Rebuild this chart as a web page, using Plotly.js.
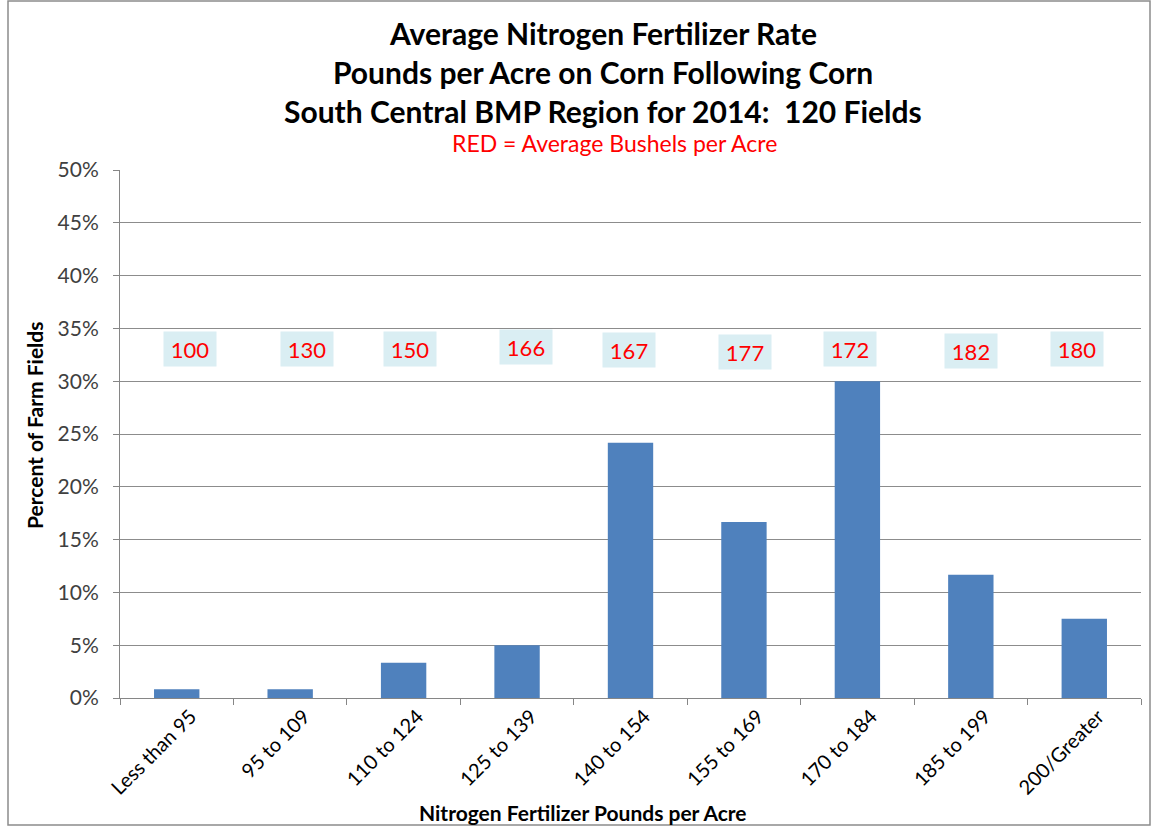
<!DOCTYPE html>
<html>
<head>
<meta charset="utf-8">
<script src="https://cdn.plot.ly/plotly-3.0.1.min.js"></script>
<style>
html,body{margin:0;padding:0;background:#fff;}
#chart{width:1158px;height:827px;}
</style>
</head>
<body>
<div id="chart"></div>
<script>
var categories = ["Less than 95","95 to 109","110 to 124","125 to 139","140 to 154","155 to 169","170 to 184","185 to 199","200/Greater"];
var percentFields = [0.83, 0.83, 3.33, 5.0, 24.17, 16.67, 30.0, 11.67, 7.5];
var bushelsPerAcre = [100, 130, 150, 166, 167, 177, 172, 182, 180];
var yTickVals = [0,5,10,15,20,25,30,35,40,45,50];
var yTickText = ["0%","5%","10%","15%","20%","25%","30%","35%","40%","45%","50%"];
var titleLines = ["Average Nitrogen Fertilizer Rate","Pounds per Acre on Corn Following Corn","South Central BMP Region for 2014:  120 Fields"];
var subtitleText = "RED = Average Bushels per Acre";
var xTitleText = "Nitrogen Fertilizer Pounds per Acre";
var yTitleText = "Percent of Farm Fields";

// label box style offsets (pixels)
var labelXShift = [13, 17, 6, 9, -2, 1, -7, 0, -7];
var labelYShift = [1, 1, 1, 3, 0, -2, 1, -1, 1];
var labelLevel = 33.0;

var font = "Lato, 'Open Sans', sans-serif";
var W = 1158, H = 827, L = 120, R = 17, T = 170, B = 129;
var PW = W - L - R, PH = H - T - B;
function px(x){ return (x - L) / PW; }
function py(y){ return (H - B - y) / PH; }

var trace = {
  type: "bar",
  x: categories,
  y: percentFields,
  marker: {color: "#4F81BD"},
  hoverinfo: "x+y"
};

var annotations = categories.map(function(c, i){
  return {
    x: c, y: labelLevel, xref: "x", yref: "y",
    text: String(bushelsPerAcre[i]),
    showarrow: false,
    xshift: labelXShift[i], yshift: labelYShift[i],
    font: {family: font, size: 22, color: "#FF0000"},
    bgcolor: "#DAEEF3",
    width: 48, height: 30,
    borderpad: 2
  };
});

var titleY = [33, 72, 111];
titleLines.forEach(function(t, i){
  annotations.push({
    xref: "paper", yref: "paper", x: px(603), y: py(titleY[i]),
    text: "<b>" + t + "</b>", showarrow: false,
    font: {family: font, size: 30, color: "#000"},
    xanchor: "center", yanchor: "middle"
  });
});

annotations.push({
  xref: "paper", yref: "paper", x: px(614), y: py(143),
  text: subtitleText, showarrow: false,
  font: {family: font, size: 23, color: "#FF0000"},
  xanchor: "center", yanchor: "middle"
});

annotations.push({
  xref: "paper", yref: "paper", x: px(583), y: py(812),
  text: "<b>" + xTitleText + "</b>", showarrow: false,
  font: {family: font, size: 21, color: "#000"},
  xanchor: "center", yanchor: "middle"
});

annotations.push({
  xref: "paper", yref: "paper", x: px(34), y: py(426),
  text: "<b>" + yTitleText + "</b>", showarrow: false, textangle: -90,
  font: {family: font, size: 21, color: "#000"},
  xanchor: "center", yanchor: "middle"
});

var layout = {
  width: W, height: H,
  margin: {l: L, r: R, t: T, b: B},
  paper_bgcolor: "#fff",
  plot_bgcolor: "#fff",
  showlegend: false,
  bargap: 0.6,
  xaxis: {
    type: "category",
    tickangle: -45,
    tickfont: {family: font, size: 20, color: "#000"},
    showline: true, linecolor: "#868686", linewidth: 1,
    ticks: "outside", tickson: "boundaries", ticklen: 6, tickcolor: "#868686",
    ticklabelshift: 14, ticklabelstandoff: -2,
    showgrid: false
  },
  yaxis: {
    range: [0, 50],
    tickvals: yTickVals,
    ticktext: yTickText,
    tickfont: {family: font, size: 21, color: "#404040"},
    showline: true, linecolor: "#868686", linewidth: 1,
    ticks: "outside", ticklen: 6, tickcolor: "#868686",
    ticklabelstandoff: 10,
    showgrid: true, gridcolor: "#8C8C8C", gridwidth: 1,
    zeroline: false
  },
  annotations: annotations,
  shapes: [{
    type: "rect", xref: "paper", yref: "paper",
    x0: px(8), x1: px(1150),
    y0: py(825), y1: py(1),
    line: {color: "#8C8C8C", width: 1.5}
  }]
};

Plotly.newPlot("chart", [trace], layout, {displayModeBar: false, staticPlot: true});
</script>
</body>
</html>
